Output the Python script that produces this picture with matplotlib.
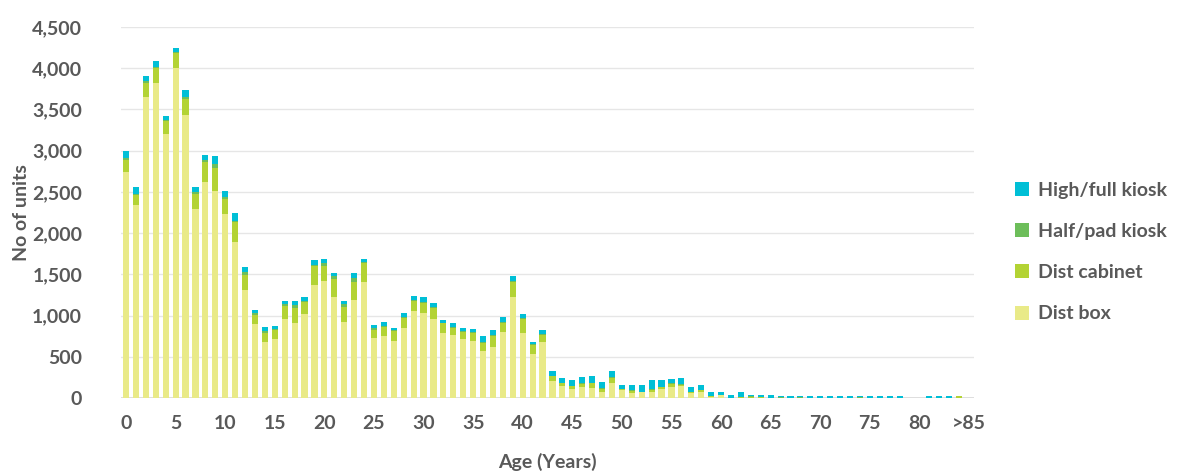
import matplotlib
matplotlib.use("Agg")
import matplotlib.pyplot as plt
from matplotlib.patches import Patch
from matplotlib.ticker import FuncFormatter, MultipleLocator
import numpy as np

# Age categories: 0..84 then ">85"
ages = [str(a) for a in range(85)] + [">85"]

dist_box = [2740, 2345, 3645, 3819, 3200, 4001, 3430, 2296, 2616, 2507,
            2228, 1887, 1304, 895, 680, 717, 960, 911, 1021, 1373,
            1422, 1227, 927, 1191, 1409, 733, 753, 697, 855, 1057,
            1033, 960, 790, 765, 717, 697, 571, 624, 802, 1227,
            786, 535, 680, 203, 146, 105, 130, 126, 69, 178,
            97, 57, 69, 69, 109, 134, 146, 61, 69, 8,
            36, 0, 0, 0, 0, 0, 0, 0, 0, 0,
            0, 0, 0, 0, 0, 0, 0, 0, 0, 0,
            0, 0, 0, 0, 0, 0]
dist_cabinet = [150, 113, 178, 178, 162, 179, 199, 175, 247, 283,
                190, 251, 190, 113, 114, 109, 150, 178, 149, 223,
                182, 219, 179, 214, 231, 93, 114, 117, 113, 122,
                121, 129, 117, 85, 85, 97, 101, 129, 109, 174,
                174, 109, 85, 60, 36, 41, 40, 52, 40, 65,
                8, 32, 4, 32, 21, 40, 16, 16, 24, 16,
                0, 0, 8, 16, 8, 0, 0, 0, 0, 0,
                0, 0, 0, 0, 0, 0, 0, 0, 0, 0,
                0, 0, 0, 0, 22, 0]
half_pad_kiosk = [15, 17, 16, 17, 12, 12, 16, 24, 29, 53,
                  20, 12, 37, 21, 24, 8, 28, 37, 9, 16,
                  32, 32, 32, 49, 12, 29, 8, 12, 20, 12,
                  16, 13, 8, 9, 5, 8, 12, 12, 12, 12,
                  8, 12, 8, 8, 4, 0, 8, 4, 17, 8,
                  0, 8, 0, 8, 0, 8, 8, 0, 0, 0,
                  0, 0, 0, 10, 0, 0, 12, 0, 12, 0,
                  0, 0, 0, 0, 12, 0, 0, 0, 0, 0,
                  0, 0, 0, 0, 0, 0]
high_full_kiosk = [95, 85, 69, 68, 52, 52, 89, 65, 60, 89,
                   69, 94, 57, 40, 41, 41, 41, 53, 52, 65,
                   53, 37, 41, 61, 37, 32, 52, 29, 41, 52,
                   53, 52, 33, 52, 40, 40, 69, 57, 61, 65,
                   49, 24, 49, 53, 53, 69, 73, 85, 68, 73,
                   53, 61, 85, 106, 85, 53, 69, 53, 69, 53,
                   36, 32, 65, 16, 28, 32, 12, 22, 12, 22,
                   22, 22, 22, 22, 12, 22, 22, 22, 22, 0,
                   0, 22, 22, 22, 0, 0]

series = [
    ("Dist box", dist_box, "#E9EA88"),
    ("Dist cabinet", dist_cabinet, "#B3D334"),
    ("Half/pad kiosk", half_pad_kiosk, "#6DBE5A"),
    ("High/full kiosk", high_full_kiosk, "#00BFD6"),
]

text_color = "#595959"
font = "Lato"

fig = plt.figure(figsize=(11.81, 4.72), dpi=100)
ax = fig.add_axes([0.1025, 0.1568, 0.7222, 0.786])

x = np.arange(len(ages))
bottom = np.zeros(len(ages))
for name, vals, color in series:
    v = np.array(vals, dtype=float)
    ax.bar(x, v, width=0.62, bottom=bottom, color=color, label=name,
           linewidth=0, zorder=3)
    bottom += v

ax.set_xlim(-0.5, len(ages) - 0.5)
ax.set_ylim(0, 4500)
ax.yaxis.set_major_locator(MultipleLocator(500))
ax.yaxis.set_major_formatter(FuncFormatter(lambda v, p: f"{int(v):,}"))
ax.grid(axis="y", color="#E6E6E6", linewidth=1.0, zorder=0)
ax.set_axisbelow(True)

tick_pos = list(range(0, 85, 5)) + [85]
ax.set_xticks(tick_pos)
ax.set_xticklabels([ages[i] for i in tick_pos])

for s in ax.spines.values():
    s.set_visible(False)
ax.axhline(0, color="#D9D9D9", linewidth=1.2, zorder=2)

ax.tick_params(axis="both", length=0, labelsize=14, labelcolor=text_color)
ax.tick_params(axis="y", pad=28)
ax.tick_params(axis="x", pad=12)
for lab in ax.get_xticklabels() + ax.get_yticklabels():
    lab.set_fontfamily(font)
    lab.set_fontweight("bold")

ax.set_xlabel("Age (Years)", fontsize=14, fontweight="bold", color=text_color,
              fontfamily=font, labelpad=15.5)
ax.set_ylabel("No of units", fontsize=14, fontweight="bold", color=text_color,
              fontfamily=font, labelpad=1.5)

handles = [Patch(facecolor=c, edgecolor="none") for _, _, c in series][::-1]
labels = [n for n, _, _ in series][::-1]
leg = fig.legend(handles, labels, loc="upper left", bbox_to_anchor=(0.8445, 0.6525),
                 frameon=False, handlelength=0.75, handleheight=0.75,
                 handletextpad=0.45, labelspacing=1.25,
                 prop={"family": font, "weight": "bold", "size": 14})
for t in leg.get_texts():
    t.set_color(text_color)

fig.savefig("out.png", dpi=100)
